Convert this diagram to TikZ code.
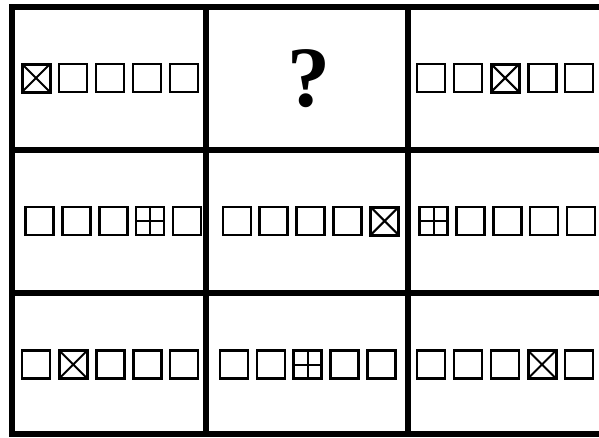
\documentclass[tikz,border=0pt]{standalone}
\usepackage{fontspec}
\setmainfont{Liberation Serif}
\usepackage{tikz}
\usetikzlibrary{positioning}

\begin{document}
\begin{tikzpicture}[
    x=1pt, y=-1pt,
    node distance=6.5pt,
    grid/.style={line width=6pt, draw=black},
    sq/.style={
        rectangle,
        draw=black,
        line width=2.4pt,
        minimum size=28pt,
        inner sep=0pt,
        fill=white
    },
    crossed/.style={
        sq,
        line width=3pt,
        path picture={\draw[line width=2pt]
            (path picture bounding box.north west) -- (path picture bounding box.south east)
            (path picture bounding box.north east) -- (path picture bounding box.south west);}
    },
    quartered/.style={
        sq,
        path picture={\draw[line width=2pt]
            (path picture bounding box.north) -- (path picture bounding box.south)
            (path picture bounding box.west) -- (path picture bounding box.east);}
    },
    qmark/.style={font=\fontsize{86}{86}\selectfont\bfseries, inner sep=0pt}
]
\useasboundingbox (0,0) rectangle (599,437);

% Grid lines
\draw[grid] (9,7) -- (599,7);
\draw[grid] (9,150) -- (599,150);
\draw[grid] (9,293) -- (599,293);
\draw[grid] (9,434) -- (599,434);
\draw[grid] (12,4) -- (12,437);
\draw[grid] (206,4) -- (206,437);
\draw[grid] (408,4) -- (408,437);

% Top row
\node[crossed] (tl1) at (36,78) {};
\node[sq, right=of tl1] (tl2) {};
\node[sq, right=of tl2] (tl3) {};
\node[sq, right=of tl3] (tl4) {};
\node[sq, right=of tl4] (tl5) {};

\node[qmark] (tc) at (309,79) {?};

\node[sq] (tr1) at (431,78) {};
\node[sq, right=of tr1] (tr2) {};
\node[crossed, right=of tr2] (tr3) {};
\node[sq, right=of tr3] (tr4) {};
\node[sq, right=of tr4] (tr5) {};

% Middle row
\node[sq] (ml1) at (39.5,221) {};
\node[sq, right=of ml1] (ml2) {};
\node[sq, right=of ml2] (ml3) {};
\node[quartered, right=of ml3] (ml4) {};
\node[sq, right=of ml4] (ml5) {};

\node[sq] (mc1) at (236.7,221) {};
\node[sq, right=of mc1] (mc2) {};
\node[sq, right=of mc2] (mc3) {};
\node[sq, right=of mc3] (mc4) {};
\node[crossed, right=of mc4] (mc5) {};

\node[quartered] (mr1) at (433.5,221) {};
\node[sq, right=of mr1] (mr2) {};
\node[sq, right=of mr2] (mr3) {};
\node[sq, right=of mr3] (mr4) {};
\node[sq, right=of mr4] (mr5) {};

% Bottom row
\node[sq] (bl1) at (36,364.5) {};
\node[crossed, right=of bl1] (bl2) {};
\node[sq, right=of bl2] (bl3) {};
\node[sq, right=of bl3] (bl4) {};
\node[sq, right=of bl4] (bl5) {};

\node[sq] (bc1) at (233.8,364.5) {};
\node[sq, right=of bc1] (bc2) {};
\node[quartered, right=of bc2] (bc3) {};
\node[sq, right=of bc3] (bc4) {};
\node[sq, right=of bc4] (bc5) {};

\node[sq] (br1) at (431,364.5) {};
\node[sq, right=of br1] (br2) {};
\node[sq, right=of br2] (br3) {};
\node[crossed, right=of br3] (br4) {};
\node[sq, right=of br4] (br5) {};

\end{tikzpicture}
\end{document}
